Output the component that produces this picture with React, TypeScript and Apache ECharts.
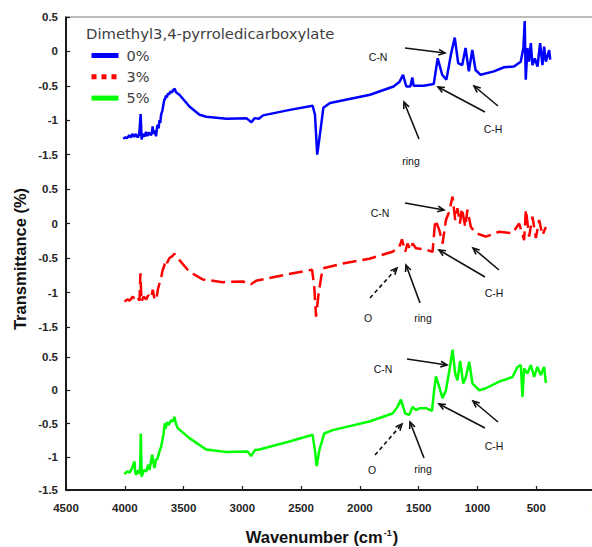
import React, { useEffect, useRef } from "react";
import * as echarts from "echarts";

// ---- data (wavenumber cm-1, transmittance) ----
const seriesNames = ["0%", "3%", "5%"];
const legendTitle = "Dimethyl3,4-pyrroledicarboxylate";
const yTickValues = [-1.5, -1, -0.5, 0, 0.5];
const xTickValues = [4500, 4000, 3500, 3000, 2500, 2000, 1500, 1000, 500, 0];

const spectrum0: number[][] = [
  [4013, -1.27], [3995, -1.25], [3980, -1.26], [3962, -1.22], [3948, -1.25], [3935, -1.2], [3920, -1.24],
  [3905, -1.2], [3890, -1.25], [3877, -1.21], [3865, -0.91], [3857, -1.28], [3845, -1.2], [3832, -1.24],
  [3819, -1.17], [3808, -1.23], [3795, -1.18], [3777, -1.22], [3768, -1.17], [3763, -1.09], [3755, -1.2],
  [3744, -1.15], [3734, -1.235], [3725, -1.1], [3720, -1.065], [3712, -1.12], [3705, -1.0], [3698, -1.04],
  [3691, -0.92], [3680, -0.86], [3672, -0.78], [3663, -0.7], [3656, -0.69], [3650, -0.64], [3642, -0.67],
  [3635, -0.62], [3622, -0.62], [3610, -0.58], [3600, -0.6], [3592, -0.57], [3575, -0.54], [3568, -0.58],
  [3560, -0.6], [3535, -0.63], [3450, -0.8], [3364, -0.92], [3307, -0.95], [3136, -0.98], [2965, -0.97],
  [2923, -1.03], [2895, -0.97], [2860, -0.98], [2824, -0.93], [2596, -0.85], [2402, -0.79], [2382, -0.92],
  [2363, -1.5], [2340, -1.21], [2311, -0.82], [2254, -0.75], [1913, -0.63], [1714, -0.51], [1662, -0.44],
  [1633, -0.34], [1605, -0.51], [1571, -0.51], [1554, -0.38], [1543, -0.5], [1457, -0.5], [1372, -0.475],
  [1338, -0.1], [1300, -0.34], [1264, -0.41], [1224, -0.03], [1193, 0.2], [1164, -0.17], [1130, -0.2],
  [1101, 0.05], [1073, -0.29], [1044, 0.02], [1016, -0.27], [973, -0.34], [860, -0.29], [774, -0.23],
  [689, -0.22], [632, -0.15], [609, 0.05], [598, 0.44], [589, -0.41], [575, 0.05], [561, -0.15], [546, 0.12],
  [532, -0.2], [512, -0.1], [489, -0.22], [467, 0.12], [447, -0.2], [433, 0.07], [418, -0.15], [390, 0.02],
  [381, -0.12],
];

const spectrum3: number[][] = [
  [4003, -1.13], [3975, -1.1], [3960, -1.12], [3932, -1.06], [3910, -1.11], [3890, -1.07], [3875, -1.12],
  [3867, -0.72], [3858, -1.13], [3840, -1.06], [3818, -1.1], [3800, -1.04], [3776, -1.08], [3762, -0.96],
  [3750, -1.07], [3733, -1.11], [3718, -0.95], [3705, -0.87], [3690, -0.78], [3677, -0.67], [3665, -0.62],
  [3654, -0.53], [3640, -0.57], [3620, -0.5], [3600, -0.48], [3578, -0.44], [3535, -0.53], [3450, -0.7],
  [3337, -0.81], [3167, -0.85], [2997, -0.84], [2926, -0.88], [2883, -0.83], [2628, -0.74], [2407, -0.67],
  [2388, -0.92], [2373, -1.35], [2351, -1.01], [2317, -0.65], [2147, -0.58], [1920, -0.51], [1722, -0.41],
  [1665, -0.34], [1642, -0.23], [1614, -0.41], [1595, -0.29], [1572, -0.38], [1552, -0.29], [1523, -0.36],
  [1438, -0.38], [1382, -0.41], [1359, 0.05], [1325, -0.09], [1297, -0.29], [1268, 0.05], [1240, 0.17],
  [1212, 0.39], [1189, 0.05], [1170, 0.22], [1149, 0.0], [1132, 0.22], [1104, -0.05], [1085, 0.2],
  [1056, -0.05], [1013, -0.14], [928, -0.19], [815, -0.12], [702, -0.14], [645, 0.0], [603, -0.24],
  [588, 0.2], [560, -0.19], [532, 0.1], [503, -0.21], [475, 0.05], [447, -0.17], [418, -0.05],
];

const spectrum5: number[][] = [
  [4003, -1.26], [3980, -1.22], [3960, -1.24], [3940, -1.18], [3918, -1.07], [3910, -1.24], [3903, -1.27],
  [3881, -1.2], [3870, -1.26], [3864, -0.65], [3856, -1.3], [3838, -1.2], [3818, -1.22], [3800, -1.12],
  [3790, -1.2], [3767, -0.97], [3748, -1.17], [3735, -1.05], [3720, -1.02], [3705, -0.92], [3691, -0.85],
  [3680, -0.75], [3669, -0.65], [3660, -0.5], [3654, -0.58], [3640, -0.48], [3626, -0.52], [3606, -0.45],
  [3590, -0.47], [3578, -0.4], [3565, -0.5], [3550, -0.57], [3450, -0.72], [3308, -0.89], [3138, -0.93],
  [2955, -0.92], [2926, -0.99], [2892, -0.9], [2855, -0.89], [2600, -0.77], [2402, -0.67], [2379, -0.95],
  [2368, -1.14], [2345, -0.9], [2303, -0.65], [2232, -0.6], [1920, -0.47], [1722, -0.35], [1680, -0.25],
  [1651, -0.14], [1614, -0.35], [1580, -0.37], [1552, -0.25], [1523, -0.3], [1495, -0.27], [1438, -0.27],
  [1387, -0.31], [1368, 0.0], [1353, 0.21], [1325, 0.05], [1297, -0.12], [1268, 0.0], [1234, 0.35],
  [1212, 0.61], [1189, 0.25], [1170, 0.15], [1147, 0.44], [1121, 0.1], [1098, 0.2], [1070, 0.43],
  [1042, 0.1], [985, 0.0], [928, 0.03], [815, 0.13], [702, 0.2], [660, 0.35], [631, 0.38], [617, -0.1],
  [603, 0.33], [575, 0.25], [546, 0.38], [518, 0.2], [490, 0.35], [461, 0.23], [433, 0.35], [418, 0.11],
];

// ---- annotations (pixel positions) ----
const annotationTexts: [string, number, number][] = [
  ["C-N", 378, 57], ["ring", 411, 161], ["C-H", 493, 129],
  ["C-N", 380, 213], ["O", 368, 318], ["ring", 423, 318], ["C-H", 494, 293],
  ["C-N", 383, 369], ["O", 372, 470], ["ring", 423, 469], ["C-H", 494, 446],
];
const annotationArrows: [number, number, number, number, boolean][] = [
  [405, 48, 445, 53, false], [419, 139, 404, 102, false], [485, 112, 438, 87, false], [498, 106, 474, 86, false],
  [405, 203, 444, 210, false], [370, 298, 397, 268, true], [420, 303, 406, 265, false], [485, 277, 439, 250, false], [499, 270, 473, 248, false],
  [407, 359, 447, 365, false], [375, 455, 402, 424, true], [424, 458, 410, 422, false], [485, 428, 439, 404, false], [498, 422, 473, 401, false],
];

const colors = ["#0000ff", "#ff0000", "#00ff00"];

function arrowGraphic(x1: number, y1: number, x2: number, y2: number, dashed: boolean) {
  const ang = Math.atan2(y2 - y1, x2 - x1);
  const L = 7;
  const a = 0.42;
  const p1 = [x2 - L * Math.cos(ang - a), y2 - L * Math.sin(ang - a)];
  const p2 = [x2 - L * Math.cos(ang + a), y2 - L * Math.sin(ang + a)];
  return [
    {
      type: "line",
      silent: true,
      shape: { x1, y1, x2, y2 },
      style: { stroke: "#111", lineWidth: 1.6, lineDash: dashed ? [4, 3] : null },
    },
    {
      type: "polyline",
      silent: true,
      shape: { points: [p1, [x2, y2], p2] },
      style: { stroke: "#111", lineWidth: 1.6, fill: null },
    },
  ];
}

const labelFont = { fontFamily: "Liberation Sans", fontWeight: "bold" as const, fontSize: 11.5, color: "#262626" };

export default function App() {
  const ref = useRef<HTMLDivElement>(null);
  useEffect(() => {
    if (!ref.current) return;
    const chart = echarts.init(ref.current, null, { renderer: "svg" });

    const grids = [
      { left: 66, top: 17, width: 529, height: 172, outerBoundsMode: "none", containLabel: false },
      { left: 66, top: 189, width: 529, height: 168, outerBoundsMode: "none", containLabel: false },
      { left: 66, top: 357, width: 529, height: 133, outerBoundsMode: "none", containLabel: false },
    ];
    const yRanges = [
      [-2, 0.5],
      [0.5 - 168 / 69, 0.5],
      [-1.5, 0.5],
    ];

    const xAxes = grids.map((_, i) => ({
      type: "value",
      gridIndex: i,
      min: 0,
      max: 4500,
      inverse: true,
      interval: 500,
      position: i === 0 ? "top" : "bottom",
      show: i !== 1,
      axisLine: {
        show: true,
        onZero: false,
        lineStyle: i === 0 ? { color: "#a6a6a6", width: 1.5 } : { color: "#1a1a1a", width: 2 },
      },
      axisTick: { show: i === 2, inside: true, length: 4, lineStyle: { color: "#1a1a1a", width: 1.2 } },
      axisLabel: {
        show: i === 2,
        margin: 12,
        ...labelFont,
        customValues: xTickValues,
        formatter: (v: number) => String(v),
      },
      splitLine: { show: false },
    }));

    const yAxes = grids.map((_, i) => ({
      type: "value",
      gridIndex: i,
      min: yRanges[i][0],
      max: yRanges[i][1],
      axisLine: { show: true, onZero: false, lineStyle: { color: "#1a1a1a", width: 2 } },
      axisTick: { show: true, inside: true, length: 4, customValues: yTickValues, lineStyle: { color: "#1a1a1a", width: 1.2 } },
      axisLabel: { margin: 8, ...labelFont, customValues: yTickValues, formatter: (v: number) => String(v) },
      splitLine: { show: false },
    }));

    const spectra = [spectrum0, spectrum3, spectrum5];
    const series = spectra.map((d, i) => ({
      name: seriesNames[i],
      type: "line",
      xAxisIndex: i,
      yAxisIndex: i,
      data: d,
      symbol: "none",
      showSymbol: false,
      clip: false,
      itemStyle: { color: colors[i] },
      lineStyle: { color: colors[i], width: 2.5, type: i === 1 ? [14, 6] : "solid" },
    }));

    const graphics: any[] = [
      {
        type: "text",
        left: 86,
        top: 26,
        silent: true,
        style: { text: legendTitle, fontFamily: "DejaVu Sans", fontSize: 14.8, fill: "#404040" },
      },
      {
        type: "text",
        x: 20,
        y: 259,
        rotation: Math.PI / 2,
        silent: true,
        style: {
          text: "Transmittance (%)",
          fontFamily: "Liberation Sans",
          fontWeight: "bold",
          fontSize: 16.5,
          fill: "#111",
          align: "center",
          verticalAlign: "middle",
          textAlign: "center",
          textVerticalAlign: "middle",
        },
      },
      {
        type: "text",
        x: 322,
        y: 537,
        silent: true,
        style: {
          text: "{a|Wavenumber (cm}{b|-1}{a|)}",
          align: "center",
          verticalAlign: "middle",
          textAlign: "center",
          textVerticalAlign: "middle",
          rich: {
            a: { fontFamily: "Liberation Sans", fontWeight: "bold", fontSize: 16.5, fill: "#111", color: "#111" },
            b: { fontFamily: "Liberation Sans", fontWeight: "bold", fontSize: 9, fill: "#111", color: "#111", padding: [0, 1, 9, 1] },
          },
        },
      },
    ];
    annotationTexts.forEach(([t, x, y]) => {
      graphics.push({
        type: "text",
        x,
        y,
        silent: true,
        style: {
          text: t,
          fontFamily: "Liberation Sans",
          fontSize: 10.5,
          fill: "#111",
          align: "center",
          verticalAlign: "middle",
          textAlign: "center",
          textVerticalAlign: "middle",
        },
      });
    });
    annotationArrows.forEach(([x1, y1, x2, y2, d]) => {
      graphics.push(...arrowGraphic(x1, y1, x2, y2, d));
    });

    chart.setOption({
      animation: false,
      backgroundColor: "#ffffff",
      grid: grids,
      xAxis: xAxes,
      yAxis: yAxes,
      legend: {
        orient: "vertical",
        left: 89,
        top: 48,
        padding: 0,
        itemWidth: 27,
        itemHeight: 14,
        itemGap: 6.3,
        selectedMode: false,
        itemStyle: { opacity: 0 },
        lineStyle: { width: 5 },
        textStyle: { fontFamily: "DejaVu Sans", fontSize: 14.5, color: "#404040", padding: [0, 0, 0, 3] },
        data: [
          { name: seriesNames[0], lineStyle: { width: 5, type: "solid" } },
          { name: seriesNames[1], lineStyle: { width: 5, type: [5, 5] } },
          { name: seriesNames[2], lineStyle: { width: 5, type: "solid" } },
        ],
      },
      series,
      graphic: graphics,
    });
    return () => chart.dispose();
  }, []);

  return (
    <div
      ref={ref}
      style={{ position: "absolute", left: 0, top: 0, width: 592, height: 547, background: "#fff" }}
    />
  );
}
